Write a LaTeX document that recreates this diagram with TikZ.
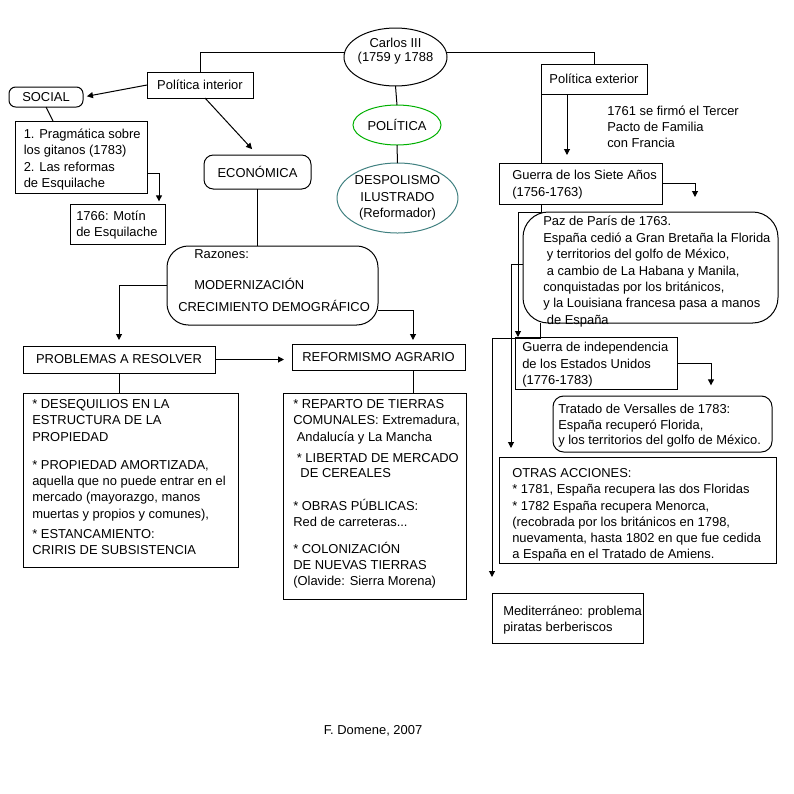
\documentclass[tikz,border=0pt]{standalone}
\usepackage{fontspec}
\setmainfont{Liberation Sans}
\usepackage{xcolor}
\definecolor{verdePol}{RGB}{0,176,0}
\definecolor{azulDesp}{RGB}{64,128,128}
\usetikzlibrary{arrows.meta,shapes.geometric,calc}
\tikzstyle{edge}  =[line width=0.75pt]
\tikzstyle{aedge} =[line width=0.75pt, -{Triangle[length=4.5pt,width=4.5pt]}]
\tikzstyle{box}   =[rectangle, draw, line width=0.75pt,
                    inner sep=0pt, outer sep=0pt]
\tikzstyle{rbox}  =[box, rounded corners=6pt]
\tikzstyle{oval}  =[ellipse, draw, line width=0.75pt,
                    inner sep=0pt, outer sep=0pt]
\tikzstyle{txt}   =[anchor=north west, align=left, inner sep=0pt]

\begin{document}
\begin{tikzpicture}[x=0.75pt, y=-0.75pt, font=\fontsize{9.7}{12.2}\selectfont]
    \useasboundingbox (0,0) rectangle (794,794);

    % centro
    \draw (395.5,57) node (carlos) [oval, minimum width=77.25pt, minimum height=43.5pt] {};
    \draw (395.5,51) node (carlostxt) [align=center, inner sep=0pt] {Carlos III\\[-1.7pt](1759 y 1788};
    \draw (397,125) node (politica) [oval, draw=verdePol, minimum width=66pt, minimum height=30pt] {POLÍTICA};
    \draw (397.5,198) node (despot) [oval, draw=azulDesp, minimum width=89.25pt, minimum height=52.5pt, align=center] {DESPOLISMO\\ILUSTRADO\\(Reformador)};

    % politica interior
    \draw (200,85) node (polint) [box, minimum width=79.5pt, minimum height=19.5pt] {Política interior};
    \draw (46,97) node (social) [rbox, rounded corners=5pt, minimum width=55.5pt, minimum height=15pt] {SOCIAL};
    \draw (81,157) node (prag) [box, minimum width=99pt, minimum height=54pt] {};
    \draw (23.5,128.3) node (pragtxt) [txt] {1. Pragmática sobre\\los gitanos (1783)\\[0.5pt]2. Las reformas\\de Esquilache};
    \draw (117.5,224) node (motin) [box, minimum width=71.25pt, minimum height=30pt] {};
    \draw (76,210.3) node (motintxt) [txt] {1766: Motín\\de Esquilache};
    \draw (257.5,172) node (eco) [rbox, rounded corners=7pt, minimum width=80.25pt, minimum height=25.5pt] {ECONÓMICA};
    \draw (272.5,285.5) node (razones) [rbox, rounded corners=16pt, minimum width=158.25pt, minimum height=59.25pt] {};
    \draw (178,249.3) node (razonestxt) [txt] {\hspace*{12pt}Razones:\\[11pt]\hspace*{12pt}MODERNIZACIÓN\\[4.3pt]CRECIMIENTO DEMOGRÁFICO};
    \draw (119,359.5) node (problemas) [box, minimum width=144pt, minimum height=20.25pt] {PROBLEMAS A RESOLVER};
    \draw (378.5,357) node (reform) [box, minimum width=129.75pt, minimum height=19.5pt] {REFORMISMO AGRARIO};
    \draw (130.5,480) node (desq) [box, minimum width=161.25pt, minimum height=130.5pt] {};
    \draw (32,399.3) node (desqtxt) [txt] {{*} DESEQUILIOS EN LA\\ESTRUCTURA DE LA\\PROPIEDAD\\[9pt]{*} PROPIEDAD AMORTIZADA,\\aquella que no puede entrar en el\\mercado (mayorazgo, manos\\muertas y propios y comunes),\\[2.8pt]{*} ESTANCAMIENTO:\\CRIRIS DE SUBSISTENCIA};
    \draw (374.5,496) node (reparto) [box, minimum width=137.25pt, minimum height=154.5pt] {};
    \draw (293,399.3) node (repartotxt) [txt] {{*} REPARTO DE TIERRAS\\COMUNALES: Extremadura,\\\ Andalucía y La Mancha\\[3.5pt]\ {*} LIBERTAD DE MERCADO\\[-0.9pt]\ \ DE CEREALES\\[12.5pt]{*} OBRAS PÚBLICAS:\\Red de carreteras...\\[8pt]{*} COLONIZACIÓN\\DE NUEVAS TIERRAS\\(Olavide: Sierra Morena)};

    % politica exterior
    \draw (594,79) node (polext) [box, minimum width=79.5pt, minimum height=22.5pt] {Política exterior};
    \draw (607,105.3) node (pacto) [txt] {1761 se firmó el Tercer\\Pacto de Familia\\con Francia};
    \draw (580.5,183.5) node (siete) [box, minimum width=122.25pt, minimum height=30.75pt] {};
    \draw (512,170.3) node (sietetxt) [txt] {Guerra de los Siete Años\\(1756-1763)};
    \draw (650.5,267.5) node (paz) [rbox, rounded corners=19pt, minimum width=191.25pt, minimum height=83.25pt] {};
    \draw (543,215.3) node (paztxt) [txt] {Paz de París de 1763.\\[1pt]España cedió a Gran Bretaña la Florida\\\ y territorios del golfo de México,\\\ a cambio de La Habana y Manila,\\conquistadas por los británicos,\\y la Louisiana francesa pasa a manos\\\ de España};
    \draw (596,363) node (indep) [box, minimum width=121.5pt, minimum height=39pt] {};
    \draw (522,342.3) node (indeptxt) [txt] {Guerra de independencia\\de los Estados Unidos\\(1776-1783)};
    \draw (662.5,424) node (tratado) [rbox, rounded corners=8pt, minimum width=164.25pt, minimum height=42pt] {};
    \draw (558,404.3) node (tratadotxt) [txt] {Tratado de Versalles de 1783:\\[-0.6pt]España recuperó Florida,\\[-0.6pt]y los territorios del golfo de México.};
    \draw (637.5,510) node (otras) [box, minimum width=207.75pt, minimum height=79.5pt] {};
    \draw (512,468.3) node (otrastxt) [txt] {OTRAS ACCIONES:\\{*} 1781, España recupera las dos Floridas\\{*} 1782 España recupera Menorca,\\(recobrada por los británicos en 1798,\\nuevamenta, hasta 1802 en que fue cedida\\a España en el Tratado de Amiens.};
    \draw (567.5,618) node (medit) [box, minimum width=113.25pt, minimum height=37.5pt] {};
    \draw (503,605.3) node (medittxt) [txt] {Mediterráneo: problema\\piratas berberiscos};

    \draw (373,731) node (firma) {F. Domene, 2007};

    % conectores
    \draw [edge] ([yshift=3.75pt]carlos.west) -| (polint.north);
    \draw [edge] ([yshift=3.75pt]carlos.east) -| (polext.north);
    \foreach \i/\j in {carlos/politica, politica/despot}
        \draw [edge] (\i.south) to (\j.north);

    \draw [aedge, shorten >=3pt] (polint.west) to (social.east);
    \draw [edge] (social.south) to ([xshift=28.5pt]prag.north west);
    \draw [aedge, shorten >=2pt] ([yshift=-12pt]prag.east) -| ([xshift=-4.5pt]motin.north east);
    \draw [aedge, shorten >=6pt] ([xshift=3.75pt]polint.south) to (eco.north);
    \draw [edge] (eco.south) to (eco.south |- razones.north);
    \draw [aedge, shorten >=4.5pt] (razones.west) -| (problemas.north);
    \draw [aedge, shorten >=3pt] ([yshift=-19pt]razones.east) -| ([xshift=-39pt]reform.north east);
    \draw [aedge, shorten >=6pt] (problemas.east) to (problemas.east -| reform.west);
    \draw [edge] (problemas.south) to (problemas.south |- desq.north);
    \coordinate (rf) at ([xshift=-39pt]reform.south east);
    \draw [edge] (rf) to (rf |- reparto.north);

    \coordinate (pe) at ([xshift=19.5pt]polext.south west);
    \draw [aedge, shorten >=6pt] (pe) to (pe |- siete.north);
    \draw [edge] (polext.south west) to (polext.south west |- siete.north);
    \coordinate (sfree) at (695,197);
    \draw [aedge] (siete.east) -| (sfree);
    \coordinate (s1) at (polext.south west |- siete.south);
    \draw [aedge] (s1) -- ++(0,8) -| ([xshift=2.25pt]indep.north west);
    \draw [aedge, shorten >=6.75pt] ([yshift=2.6pt]paz.west) -| ([xshift=9pt]otras.north west);
    \draw [aedge, shorten >=12pt] ([xshift=12.75pt]paz.south west) -- ++(0,15) -| (medit.north west);
    \draw [aedge, shorten >=8pt] (indep.east) -| ([xshift=-45.75pt]tratado.north east);

\end{tikzpicture}
\end{document}
